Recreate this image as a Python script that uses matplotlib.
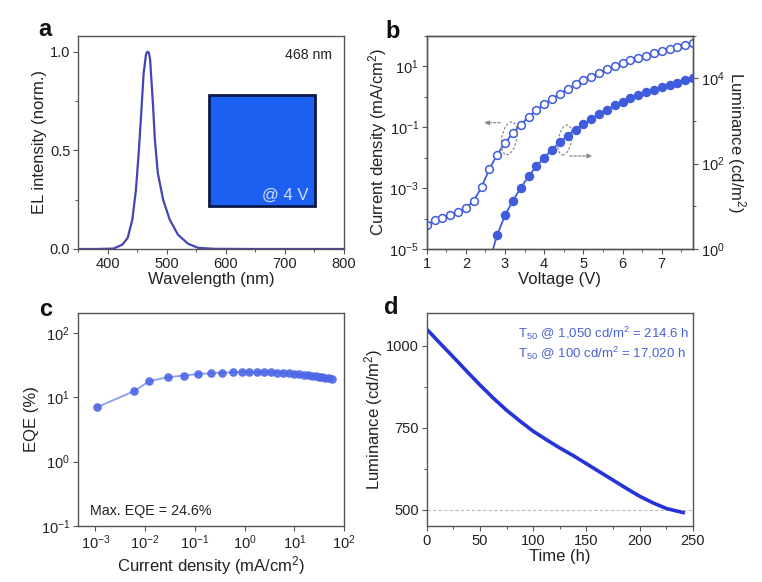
import numpy as np
import matplotlib
matplotlib.use("Agg")
import matplotlib.pyplot as plt
from matplotlib.patches import Ellipse, Rectangle
from matplotlib.ticker import FixedLocator, MultipleLocator, NullLocator, LogFormatterSciNotation

plt.rcParams["font.family"] = ["Liberation Sans", "DejaVu Sans"]
plt.rcParams["mathtext.fontset"] = "custom"
plt.rcParams["mathtext.rm"] = "Liberation Sans"
plt.rcParams["mathtext.it"] = "Liberation Sans:italic"
plt.rcParams["mathtext.bf"] = "Liberation Sans:bold"
plt.rcParams["axes.edgecolor"] = "#555555"
plt.rcParams["xtick.color"] = "#555555"
plt.rcParams["ytick.color"] = "#555555"
plt.rcParams["xtick.labelcolor"] = "#222222"
plt.rcParams["ytick.labelcolor"] = "#222222"
plt.rcParams["xtick.labelsize"] = 10.5
plt.rcParams["ytick.labelsize"] = 10.5
plt.rcParams["axes.labelsize"] = 12
plt.rcParams["axes.labelcolor"] = "#222222"

# ── Datos ──────────────────────────────────────────────────────────────────────
# (a) espectro EL
wavelength = [350, 380, 410, 425, 434, 442, 448, 453, 457, 461, 465, 466, 468,
              470, 472, 477, 480, 485, 494, 505, 519, 536, 553, 580, 650, 800]
el_intensity = [0, 0, 0.002, 0.022, 0.056, 0.15, 0.30, 0.50, 0.69, 0.89, 0.985,
                0.995, 1.0, 0.995, 0.96, 0.725, 0.556, 0.386, 0.25, 0.15, 0.073,
                0.027, 0.006, 0.001, 0, 0]

# (b) J-V-L
voltage = [1.0, 1.2, 1.4, 1.6, 1.8, 2.0, 2.2, 2.4, 2.6, 2.8, 3.0, 3.2, 3.4, 3.6,
           3.8, 4.0, 4.2, 4.4, 4.6, 4.8, 5.0, 5.2, 5.4, 5.6, 5.8, 6.0, 6.2, 6.4,
           6.6, 6.8, 7.0, 7.2, 7.4, 7.6, 7.8]
log_current = [-4.22, -4.06, -3.98, -3.87, -3.78, -3.67, -3.42, -2.97, -2.38,
               -1.90, -1.52, -1.20, -0.92, -0.67, -0.45, -0.25, -0.07, 0.09,
               0.25, 0.40, 0.53, 0.66, 0.78, 0.90, 1.00, 1.10, 1.19, 1.27, 1.35,
               1.43, 1.50, 1.56, 1.62, 1.69, 1.75]
lum_voltage = [2.6, 2.8, 3.0, 3.2, 3.4, 3.6, 3.8, 4.0, 4.2, 4.4, 4.6, 4.8, 5.0,
               5.2, 5.4, 5.6, 5.8, 6.0, 6.2, 6.4, 6.6, 6.8, 7.0, 7.2, 7.4, 7.6, 7.8]
log_luminance = [-0.30, 0.33, 0.79, 1.13, 1.43, 1.70, 1.94, 2.14, 2.33, 2.50,
                 2.66, 2.80, 2.92, 3.05, 3.17, 3.27, 3.37, 3.45, 3.53, 3.60,
                 3.67, 3.73, 3.79, 3.84, 3.89, 3.95, 4.00]

# (c) EQE-J
eqe_log_j = [-2.97, -2.22, -1.92, -1.55, -1.22, -0.93, -0.68, -0.45, -0.24,
             -0.06, 0.09, 0.25, 0.40, 0.53, 0.66, 0.78, 0.90, 1.00, 1.10, 1.19,
             1.27, 1.35, 1.43, 1.50, 1.56, 1.62, 1.69, 1.75]
eqe = [7.0, 12.4, 17.7, 20.4, 21.7, 22.9, 23.5, 24.0, 24.3, 24.6, 24.6, 24.5,
       24.4, 24.2, 24.0, 23.7, 23.4, 23.0, 22.6, 22.2, 21.8, 21.4, 21.0, 20.6,
       20.3, 20.0, 19.7, 19.4]

# (d) estabilidad
time_h = [0, 12.5, 25, 37.5, 50, 62.5, 75, 88, 100, 113, 125, 138, 150, 163,
          175.5, 188, 200.5, 213, 225.5, 241]
lum_decay = [1050, 1007, 965, 922, 880, 840, 803, 769, 739, 712, 688, 664, 640,
             614, 589, 564, 540, 520, 503, 491]

W, H = 762, 582
fig = plt.figure(figsize=(W / 100, H / 100), dpi=100)


def px_axes(left, top, right, bottom):
    return fig.add_axes([left / W, 1 - bottom / H, (right - left) / W, (bottom - top) / H])


def panel_label(txt, x, y):
    fig.text(x / W, 1 - y / H, txt, fontsize=17, fontweight="bold",
             ha="center", va="center", color="#111111")


log_fmt = LogFormatterSciNotation()
blue_txt = "#4a60d2"

# ── (a) ────────────────────────────────────────────────────────────────────────
ax_a = px_axes(78, 36, 344, 249)
ax_a.plot(wavelength, el_intensity, color="#4444b4", lw=1.6)
ax_a.set_xlim(350, 800)
ax_a.set_ylim(0, 1.08)
ax_a.xaxis.set_major_locator(FixedLocator([400, 500, 600, 700, 800]))
ax_a.xaxis.set_minor_locator(MultipleLocator(50))
ax_a.yaxis.set_major_locator(FixedLocator([0.0, 0.5, 1.0]))
ax_a.yaxis.set_minor_locator(MultipleLocator(0.25))
ax_a.yaxis.set_major_formatter(plt.FormatStrFormatter("%.1f"))
ax_a.set_xlabel("Wavelength (nm)", labelpad=1)
ax_a.set_ylabel("EL intensity (norm.)", labelpad=2)
ax_a.text(0.955, 0.91, "468 nm", transform=ax_a.transAxes, ha="right",
          va="center", fontsize=10.2, color="#222222")
ax_a.add_patch(Rectangle((572, 0.218), 179, 0.562, facecolor="#1c60f2",
                         edgecolor="#0c1a4a", lw=2))
ax_a.text(740, 0.27, "@ 4 V", ha="right", va="center", fontsize=12,
          color="#d6ddf2")
panel_label("a", 45, 29)

# ── (b) ────────────────────────────────────────────────────────────────────────
ax_b = px_axes(426.7, 35.7, 693, 249)
ax_b.plot(voltage, np.power(10.0, log_current), "-o", color="#3f5cdc", lw=1.3,
          ms=5.6, mfc="white", mec="#3f5cdc", mew=1.1)
ax_b.set_yscale("log")
ax_b.set_xlim(1, 7.8)
ax_b.set_ylim(1e-5, 1e2)
ax_b.yaxis.set_major_locator(FixedLocator([1e-5, 1e-3, 1e-1, 1e1]))
ax_b.yaxis.set_minor_locator(FixedLocator([1e-4, 1e-2, 1e0, 1e2]))
ax_b.yaxis.set_major_formatter(log_fmt)
ax_b.yaxis.set_minor_formatter(plt.NullFormatter())
ax_b.xaxis.set_major_locator(MultipleLocator(1))
ax_b.xaxis.set_minor_locator(MultipleLocator(0.5))
ax_b.set_xlabel("Voltage (V)", labelpad=1)
ax_b.set_ylabel("Current density (mA/cm$^2$)", labelpad=0)

ax_b2 = ax_b.twinx()
ax_b2.plot(lum_voltage, np.power(10.0, log_luminance), "-o", color="#3f5cdc",
           lw=1.3, ms=5.8, mfc="#3f5cdc", mec="#3f5cdc")
ax_b2.set_yscale("log")
ax_b2.set_ylim(1, 1e5)
ax_b2.yaxis.set_major_locator(FixedLocator([1e0, 1e2, 1e4]))
ax_b2.yaxis.set_minor_locator(FixedLocator([1e1, 1e3, 1e5]))
ax_b2.yaxis.set_major_formatter(log_fmt)
ax_b2.yaxis.set_minor_formatter(plt.NullFormatter())
ax_b2.set_ylabel("Luminance (cd/m$^2$)", rotation=270, labelpad=17)

for cx, cy, w, h in [(0.310, 0.519, 0.056, 0.155), (0.519, 0.511, 0.05, 0.141)]:
    ax_b.add_patch(Ellipse((cx, cy), w, h, angle=-8, transform=ax_b.transAxes,
                           fill=False, ls=(0, (2, 1.5)), lw=0.9, ec="#888888",
                           zorder=5))
ax_b.annotate("", xy=(0.205, 0.592), xytext=(0.287, 0.592),
              xycoords="axes fraction",
              arrowprops=dict(arrowstyle="-|>", ls=(0, (2, 1.5)), lw=0.9,
                              color="#888888", mutation_scale=7))
ax_b.annotate("", xy=(0.632, 0.436), xytext=(0.526, 0.436),
              xycoords="axes fraction",
              arrowprops=dict(arrowstyle="-|>", ls=(0, (2, 1.5)), lw=0.9,
                              color="#888888", mutation_scale=7))
panel_label("b", 393, 32)

# ── (c) ────────────────────────────────────────────────────────────────────────
ax_c = px_axes(77.7, 312.7, 344, 526)
ax_c.plot(np.power(10.0, eqe_log_j), eqe, "-", color="#8a9de6", lw=1.3)
ax_c.plot(np.power(10.0, eqe_log_j), eqe, "o", color="#4b66e6", ms=6.2,
          alpha=0.9, mew=0)
ax_c.set_xscale("log")
ax_c.set_yscale("log")
ax_c.set_xlim(4.4e-4, 1e2)
ax_c.set_ylim(0.1, 205)
ax_c.xaxis.set_major_locator(FixedLocator([1e-3, 1e-2, 1e-1, 1e0, 1e1, 1e2]))
ax_c.yaxis.set_major_locator(FixedLocator([1e-1, 1e0, 1e1, 1e2]))
ax_c.xaxis.set_minor_locator(NullLocator())
ax_c.yaxis.set_minor_locator(NullLocator())
ax_c.xaxis.set_major_formatter(log_fmt)
ax_c.yaxis.set_major_formatter(log_fmt)
ax_c.set_xlabel("Current density (mA/cm$^2$)", labelpad=1)
ax_c.set_ylabel("EQE (%)", labelpad=1)
ax_c.text(0.046, 0.07, "Max. EQE = 24.6%", transform=ax_c.transAxes,
          ha="left", va="center", fontsize=10.3, color="#222222")
panel_label("c", 46, 310)

# ── (d) ────────────────────────────────────────────────────────────────────────
ax_d = px_axes(426.7, 312.7, 692.7, 526)
ax_d.axhline(500, color="#bbbbbb", ls=(0, (3, 2)), lw=0.8)
ax_d.plot(time_h, lum_decay, color="#2434d8", lw=2.6)
ax_d.set_xlim(0, 250)
ax_d.set_ylim(450, 1100)
ax_d.xaxis.set_major_locator(MultipleLocator(50))
ax_d.xaxis.set_minor_locator(MultipleLocator(25))
ax_d.yaxis.set_major_locator(FixedLocator([500, 750, 1000]))
ax_d.yaxis.set_minor_locator(FixedLocator([625, 875]))
ax_d.set_xlabel("Time (h)", labelpad=1)
ax_d.set_ylabel("Luminance (cd/m$^2$)", labelpad=1)
ax_d.text(0.343, 0.903, "T$_{50}$ @ 1,050 cd/m$^2$ = 214.6 h",
          transform=ax_d.transAxes, ha="left", va="center", fontsize=9.5,
          color=blue_txt)
ax_d.text(0.343, 0.81, "T$_{50}$ @ 100 cd/m$^2$ = 17,020 h",
          transform=ax_d.transAxes, ha="left", va="center", fontsize=9.5,
          color=blue_txt)
panel_label("d", 391, 308)

for ax in (ax_a, ax_b, ax_b2, ax_c, ax_d):
    ax.tick_params(which="major", length=3.5, width=0.8, pad=2)
    ax.tick_params(which="minor", length=2, width=0.7)
    for sp in ax.spines.values():
        sp.set_linewidth(1.0)

fig.savefig("out.png", dpi=100)
